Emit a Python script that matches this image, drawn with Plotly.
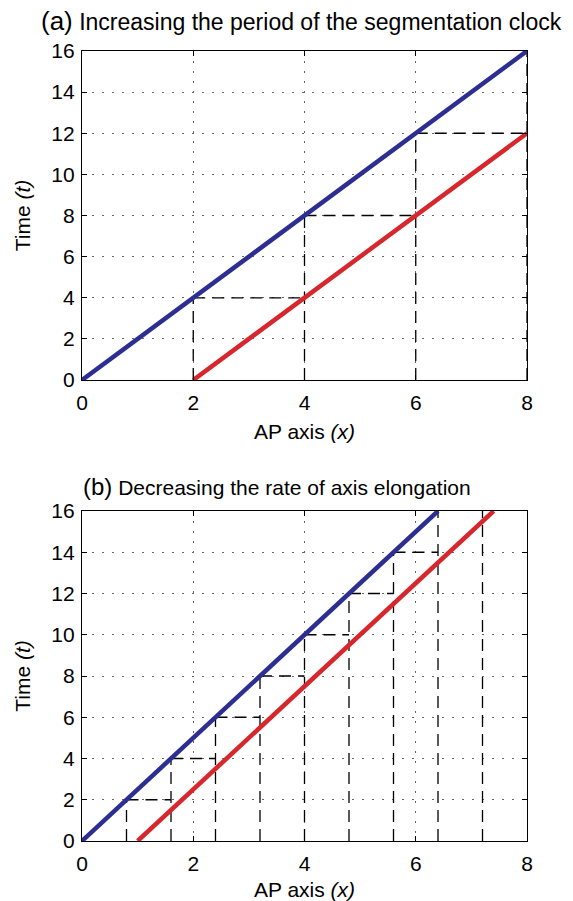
import plotly.graph_objects as go

# ---- data ----
# Panel (a): increasing the period of the segmentation clock
blue_a_x = [0, 8]
blue_a_t = [0, 16]
red_a_x = [2, 8]
red_a_t = [0, 12]
stairs_a_x = [2, 4, 6, 8]
stairs_a_t = [4, 8, 12, 16]

# Panel (b): decreasing the rate of axis elongation
blue_b_x = [0, 6.4]
blue_b_t = [0, 16]
red_b_x = [1, 7.4]
red_b_t = [0, 16]
stairs_b_x = [0.8, 1.6, 2.4, 3.2, 4.0, 4.8, 5.6, 6.4, 7.2]
stairs_b_t = [2, 4, 6, 8, 10, 12, 14, 16, 16]

x_ticks = [0, 2, 4, 6, 8]
t_ticks = [0, 2, 4, 6, 8, 10, 12, 14, 16]

titles = ["<span style='font-size:26px'>(a)</span> Increasing the period of the segmentation clock",
          "<span style='font-size:24px'>(b)</span> Decreasing the rate of axis elongation"]

BLUE = "#2c2e91"
RED = "#d7262c"
FONT = "Liberation Sans, Arial, sans-serif"

fig = go.Figure()


def stair_trace(xs, ts, xa, ya):
    px, py = [], []
    for i in range(len(xs)):
        px += [xs[i], xs[i], None]
        py += [0, ts[i], None]
        if i + 1 < len(xs) and ts[i + 1] != ts[i]:
            px += [xs[i], xs[i + 1], None]
            py += [ts[i], ts[i], None]
    return go.Scatter(x=px, y=py, mode="lines", xaxis=xa, yaxis=ya,
                      line=dict(color="black", width=1.3, dash="12px,7px"),
                      showlegend=False, hoverinfo="skip")


fig.add_trace(stair_trace(stairs_a_x, stairs_a_t, "x", "y"))
fig.add_trace(go.Scatter(x=blue_a_x, y=blue_a_t, mode="lines", xaxis="x", yaxis="y",
                         line=dict(color=BLUE, width=4.5), showlegend=False, cliponaxis=False))
fig.add_trace(go.Scatter(x=red_a_x, y=red_a_t, mode="lines", xaxis="x", yaxis="y",
                         line=dict(color=RED, width=4.5), showlegend=False, cliponaxis=False))

fig.add_trace(stair_trace(stairs_b_x, stairs_b_t, "x2", "y2"))
fig.add_trace(go.Scatter(x=blue_b_x, y=blue_b_t, mode="lines", xaxis="x2", yaxis="y2",
                         line=dict(color=BLUE, width=4.5), showlegend=False, cliponaxis=False))
fig.add_trace(go.Scatter(x=red_b_x, y=red_b_t, mode="lines", xaxis="x2", yaxis="y2",
                         line=dict(color=RED, width=4.5), showlegend=False, cliponaxis=False))

axis_common = dict(showline=True, linecolor="black", linewidth=1.3, mirror="ticks",
                   ticks="inside", ticklen=5, tickcolor="black", tickwidth=1.2,
                   showgrid=True, gridcolor="#666666", gridwidth=1, griddash="1.5px,8.5px",
                   zeroline=False, automargin=False,
                   tickfont=dict(size=21, color="black", family=FONT))

xtitle = dict(text="AP axis <i>(x)</i>", font=dict(size=21, color="black", family=FONT), standoff=10)
ytitle = dict(text="Time <i>(t)</i>", font=dict(size=21, color="black", family=FONT), standoff=14)

fig.update_layout(
    width=573, height=901,
    margin=dict(l=82, r=46, t=51, b=60, autoexpand=False),
    paper_bgcolor="white", plot_bgcolor="white",
    font=dict(family=FONT, color="black"),
    xaxis=dict(domain=[0, 1], range=[0, 8], tickvals=x_ticks, anchor="y", title=xtitle,
               ticklabelstandoff=4, **axis_common),
    yaxis=dict(domain=[0.5835, 1], range=[0, 16], tickvals=t_ticks, anchor="x", title=ytitle,
               ticklabelstandoff=2, **axis_common),
    xaxis2=dict(domain=[0, 1], range=[0, 8], tickvals=x_ticks, anchor="y2", title=xtitle,
                ticklabelstandoff=4, **axis_common),
    yaxis2=dict(domain=[0, 0.4177], range=[0, 16], tickvals=t_ticks, anchor="x2", title=ytitle,
                ticklabelstandoff=2, **axis_common),
    annotations=[
        dict(text=titles[0], x=0.5, y=1, xref="paper", yref="paper", showarrow=False,
             font=dict(size=23, color="black", family=FONT)),
        dict(text=titles[1], x=0.5, y=0.5, xref="paper", yref="paper", showarrow=False,
             font=dict(size=21, color="black", family=FONT)),
    ],
)

# place titles in pixel-consistent paper coordinates
plot_h = 901 - 51 - 60
fig.layout.annotations[0].update(y=(841 - 21) / plot_h, yanchor="middle", x=(301.5 - 82) / 445)
fig.layout.annotations[1].update(y=(841 - 486) / plot_h, yanchor="middle", x=(277 - 82) / 445)

fig.write_html("out.html")
